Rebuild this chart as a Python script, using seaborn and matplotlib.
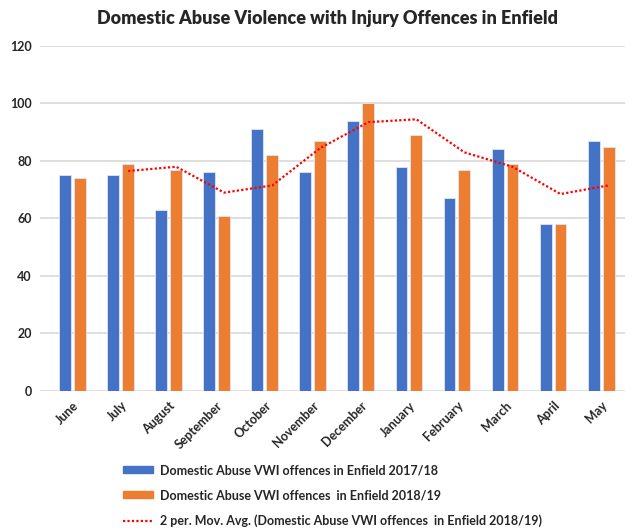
import matplotlib
matplotlib.use("Agg")
import matplotlib.pyplot as plt
import seaborn as sns
import pandas as pd
from matplotlib.lines import Line2D
from matplotlib.patches import Patch

months = ["June", "July", "August", "September", "October", "November",
          "December", "January", "February", "March", "April", "May"]
vwi_2017_18 = [75, 75, 63, 76, 91, 76, 94, 78, 67, 84, 58, 87]
vwi_2018_19 = [74, 79, 77, 61, 82, 87, 100, 89, 77, 79, 58, 85]
label_1718 = "Domestic Abuse VWI offences in Enfield 2017/18"
label_1819 = "Domestic Abuse VWI offences  in Enfield 2018/19"
label_avg = "2 per. Mov. Avg. (Domestic Abuse VWI offences  in Enfield 2018/19)"

df = pd.DataFrame({
    "month": months * 2,
    "value": vwi_2017_18 + vwi_2018_19,
    "series": [label_1718] * 12 + [label_1819] * 12,
})

sns.set_style("white")
plt.rcParams["font.family"] = ["Lato", "DejaVu Sans"]

fig = plt.figure(figsize=(6.34, 5.31), dpi=100)
ax = fig.add_axes([0.063, 0.2637, 0.923, 0.6497])

blue = "#4472C4"
orange = "#ED7D31"
sns.barplot(data=df, x="month", y="value", hue="series", order=months,
            palette=[blue, orange], saturation=1, width=0.62, gap=0.2, ax=ax,
            edgecolor="#DDE6F5", linewidth=0.6, legend=False)

# 2 period moving average on the 2018/19 series, drawn over its bars
mov_avg = pd.Series(vwi_2018_19).rolling(2).mean()
xs = [p.get_x() + p.get_width() / 2 for p in ax.containers[1].patches]
ax.plot(xs[1:], mov_avg[1:], color="#FF0000", linestyle=(0, (1, 1)),
        linewidth=1.6, zorder=4)

ax.set_ylim(0, 120)
ax.set_yticks(range(0, 121, 20))
ax.set_xlim(-0.68, 11.5)
ax.grid(axis="y", color="#D9D9D9", linewidth=1.2)
ax.set_axisbelow(True)
for s in ax.spines.values():
    s.set_visible(False)
ax.tick_params(length=0, pad=6)
ax.set_xlabel("")
ax.set_ylabel("")
for t in ax.get_yticklabels():
    t.set_fontsize(9)
    t.set_fontweight("bold")
for t in ax.get_xticklabels():
    t.set_fontsize(9)
    t.set_fontweight("bold")
    t.set_rotation(45)
    t.set_ha("right")
    t.set_rotation_mode("anchor")

fig.text(0.516, 0.966, "Domestic Abuse Violence with Injury Offences in Enfield",
         ha="center", va="center", fontsize=13, fontweight="heavy")

handles = [Patch(color=blue), Patch(color=orange),
           Line2D([0], [0], color="#FF0000", linestyle=(0, (1, 1)), linewidth=1.6)]
fig.legend(handles, [label_1718, label_1819, label_avg],
           loc="lower left", bbox_to_anchor=(0.177, -0.014), frameon=False,
           prop={"size": 9, "weight": "bold"}, handlelength=2.4,
           handleheight=0.5, labelspacing=1.05, handletextpad=0.5)

fig.savefig("out.png", dpi=100)
